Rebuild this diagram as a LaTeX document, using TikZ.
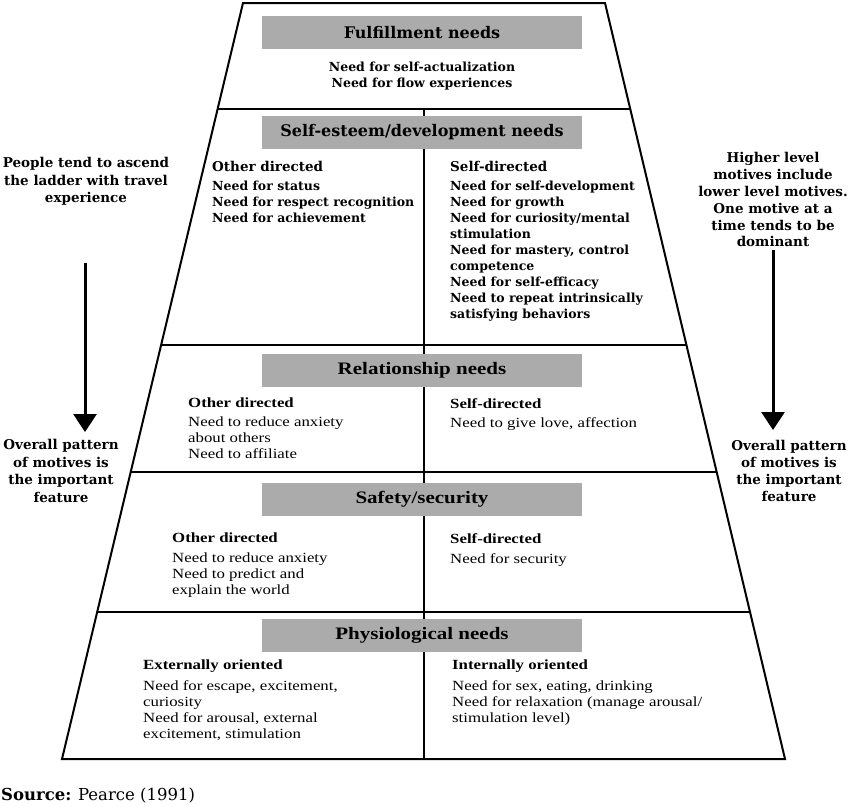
\documentclass[tikz,border=0pt]{standalone}
\usepackage{fontspec}
\newfontfamily\bkfont{DejaVu Serif}
\newfontfamily\tmfont[FakeStretch=1.2]{Liberation Serif}
\usetikzlibrary{calc,arrows.meta}
\definecolor{boxgray}{HTML}{ABABAB}
\begin{document}
\begin{tikzpicture}[x=1pt,y=-1pt,
  graybox/.style={fill=boxgray, minimum width=320pt, minimum height=33pt, inner sep=0pt},
  headB/.style={font=\bkfont\bfseries\fontsize{16}{19}\selectfont},
  headT/.style={font=\tmfont\bfseries\fontsize{17.5}{20}\selectfont},
  upsub/.style={font=\bkfont\bfseries\fontsize{13.5}{16}\selectfont, anchor=north west, inner sep=0pt},
  upitem/.style={font=\bkfont\bfseries\fontsize{12.5}{16}\selectfont, anchor=north west, inner sep=0pt, align=left},
  lowsub/.style={font=\tmfont\bfseries\fontsize{14}{16}\selectfont, anchor=north west, inner sep=0pt},
  lowitem/.style={font=\tmfont\fontsize{14}{16}\selectfont, anchor=north west, inner sep=0pt, align=left},
  side/.style={font=\bkfont\bfseries\fontsize{13.5}{17.5}\selectfont, align=center, inner sep=0pt, anchor=north},
  frame/.style={line width=2pt, line join=miter},
  sep/.style={line width=1.5pt},
  bigarrow/.style={line width=3pt, -{Triangle[width=23pt,length=18pt]}}
]
\useasboundingbox (0,0) rectangle (850,806);

% trapezoid corners
\coordinate (TL) at (243,3);
\coordinate (TR) at (605,3);
\coordinate (BR) at (785,759);
\coordinate (BL) at (62,759);

% level lines
\coordinate (L1) at ($(TL)!0.1402!(BL)$);
\coordinate (R1) at ($(TR)!0.1402!(BR)$);
\coordinate (L2) at ($(TL)!0.4524!(BL)$);
\coordinate (R2) at ($(TR)!0.4524!(BR)$);
\coordinate (L3) at ($(TL)!0.6204!(BL)$);
\coordinate (R3) at ($(TR)!0.6204!(BR)$);
\coordinate (L4) at ($(TL)!0.8056!(BL)$);
\coordinate (R4) at ($(TR)!0.8056!(BR)$);
\coordinate (DT) at (424,109);
\coordinate (DB) at (424,759);

\draw[sep] (L1) -- (R1);
\draw[sep] (L2) -- (R2);
\draw[sep] (L3) -- (R3);
\draw[sep] (L4) -- (R4);
\draw[sep] (DT) -- (DB);

% gray heading boxes
\node[graybox, headB] (hful) at (422,32.5) {Fulfillment needs};
\node[graybox, headB] (hself) at (422,132.5) {Self-esteem/development needs};
\node[graybox, headT] (hrel) at (422,370.5) {Relationship needs};
\node[graybox, headT] (hsaf) at (422,499) {Safety/security};
\node[graybox, headT] (hphy) at (422,635.5) {Physiological needs};

\draw[frame] (TL) -- (TR) -- (BR) -- (BL) -- cycle;

% fulfillment
\node[upitem, anchor=north, align=center] (ful) at (422,62) {Need for self-actualization\\Need for flow experiences};

% self-esteem
\node[upsub] (seos) at (212,161.5) {Other directed};
\node[upitem] (seoi) at (212,181) {Need for status\\Need for respect recognition\\Need for achievement};
\node[upsub] (sess) at (450,161.5) {Self-directed};
\node[upitem] (sesi) at (450,181) {Need for self-development\\Need for growth\\Need for curiosity/mental\\stimulation\\Need for mastery, control\\competence\\Need for self-efficacy\\Need to repeat intrinsically\\satisfying behaviors};

% relationship
\node[lowsub] (reos) at (188,398) {Other directed};
\node[lowitem] (reoi) at (188,417) {Need to reduce anxiety\\about others\\Need to affiliate};
\node[lowsub] (ress) at (450,398) {Self-directed};
\node[lowitem] (resi) at (450,417) {Need to give love, affection};

% safety
\node[lowsub] (saos) at (172,533) {Other directed};
\node[lowitem] (saoi) at (172,553) {Need to reduce anxiety\\Need to predict and\\explain the world};
\node[lowsub] (sass) at (450,533) {Self-directed};
\node[lowitem] (sasi) at (450,553) {Need for security};

% physiological
\node[lowsub] (phes) at (143,660) {Externally oriented};
\node[lowitem] (phei) at (143,680) {Need for escape, excitement,\\curiosity\\Need for arousal, external\\excitement, stimulation};
\node[lowsub] (phis) at (452,660) {Internally oriented};
\node[lowitem] (phii) at (452,680) {Need for sex, eating, drinking\\Need for relaxation (manage arousal/\\stimulation level)};

% side texts
\node[side] (lt) at (86,157.5) {People tend to ascend\\the ladder with travel\\experience};
\node[side] (lb) at (61,439.5) {Overall pattern\\of motives is\\the important\\feature};
\node[side, font=\bkfont\bfseries\fontsize{13.5}{16.8}\selectfont] (rt) at (773,152.5) {Higher level\\motives include\\lower level motives.\\One motive at a\\time tends to be\\dominant};
\node[side, font=\bkfont\bfseries\fontsize{13.5}{17}\selectfont] (rb) at (789,440.5) {Overall pattern\\of motives is\\the important\\feature};

% arrows
\coordinate (la1) at (85,263);
\coordinate (la2) at (85,432);
\coordinate (ra1) at (773,250);
\coordinate (ra2) at (773,430);
\draw[bigarrow] (la1) -- (la2);
\draw[bigarrow] (ra1) -- (ra2);

% source
\node[anchor=west, inner sep=0pt] (src) at (1,796) {\fontsize{16.5}{19}\selectfont{\bkfont\bfseries Source:} {\bkfont Pearce (1991)}};
\end{tikzpicture}
\end{document}
